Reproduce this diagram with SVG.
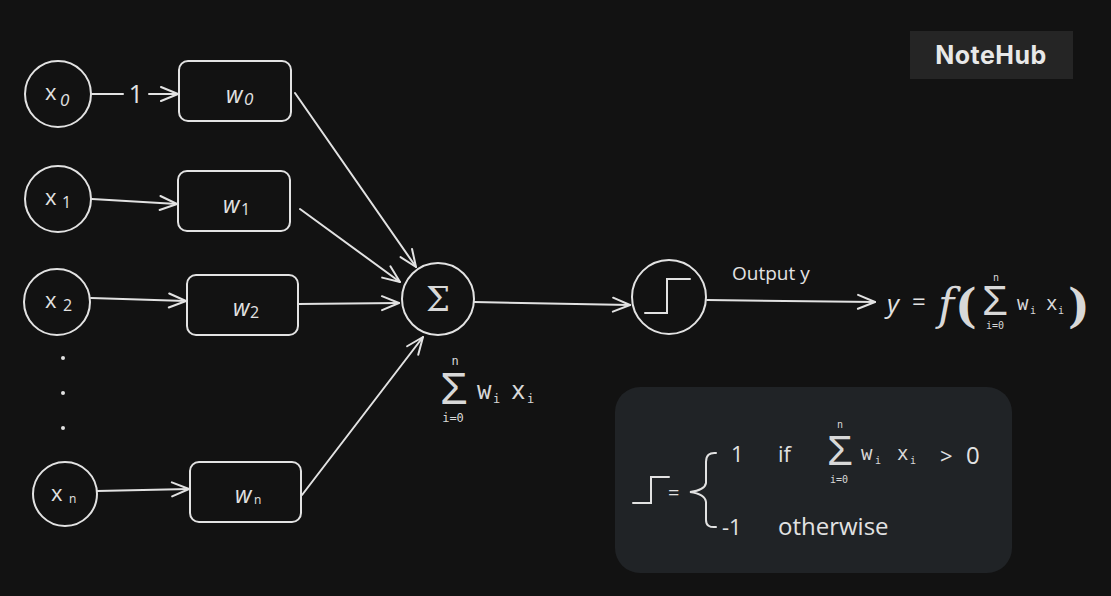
<svg xmlns="http://www.w3.org/2000/svg" width="1111" height="596" viewBox="0 0 1111 596">
<defs>
<marker id="arr" viewBox="0 0 20 20" refX="19" refY="10" markerWidth="20" markerHeight="20" markerUnits="userSpaceOnUse" orient="auto">
<path d="M2,3 L19,10 L2,17" fill="none" stroke="#e2e2e2" stroke-width="2" stroke-linecap="round" stroke-linejoin="round"/>
</marker>
<style>
.n{fill:none;stroke:#e2e2e2;stroke-width:2}
.c{fill:none;stroke:#e2e2e2;stroke-width:2;stroke-linecap:round}
.h{font-family:"Open Sans","Liberation Sans",sans-serif;fill:#e2e2e2}
.m{font-family:"DejaVu Sans Mono","Liberation Mono",monospace;fill:#d8d8d8}
.s{font-family:"DejaVu Serif","Liberation Serif",serif;fill:#d8d8d8}
.g{font-family:"Liberation Sans",sans-serif;fill:#d8d8d8}
</style>
</defs>
<rect width="1111" height="596" fill="#121212"/>
<g id="logo">
<rect x="910" y="31" width="163" height="48" fill="#252525"/>
<text x="991" y="64" text-anchor="middle" font-family="Inter,'DejaVu Sans',sans-serif" font-weight="700" font-size="25" fill="#e8e8e8" letter-spacing="0.5">NoteHub</text>
</g>
<g id="connectors">
<line class="c" x1="92" y1="94" x2="123" y2="94"/>
<text class="h" x="136" y="103" font-size="25" text-anchor="middle">1</text>
<line class="c" x1="149" y1="94" x2="178" y2="94" marker-end="url(#arr)"/>
<line class="c" x1="92" y1="199" x2="177" y2="204" marker-end="url(#arr)"/>
<line class="c" x1="91" y1="298" x2="186" y2="301" marker-end="url(#arr)"/>
<line class="c" x1="97" y1="491" x2="189" y2="489" marker-end="url(#arr)"/>
<line class="c" x1="295" y1="93" x2="416" y2="267" marker-end="url(#arr)"/>
<line class="c" x1="300" y1="209" x2="400" y2="282" marker-end="url(#arr)"/>
<line class="c" x1="298" y1="304" x2="399" y2="303" marker-end="url(#arr)"/>
<line class="c" x1="302" y1="495" x2="423" y2="337" marker-end="url(#arr)"/>
<line class="c" x1="474" y1="302" x2="630" y2="305" marker-end="url(#arr)"/>
<line class="c" x1="707" y1="300" x2="875" y2="302" marker-end="url(#arr)"/>
<text class="h" x="732" y="280" font-size="19">Output y</text>
</g>
<g id="x0">
<circle class="n" cx="58" cy="94" r="33"/>
<text class="h" x="45" y="100" font-size="22">x</text><text class="h" x="60" y="106" font-size="17" font-style="italic">0</text>
</g>
<g id="x1">
<circle class="n" cx="58" cy="199" r="33"/>
<text class="h" x="45" y="205" font-size="22">x</text><text class="h" x="62" y="208" font-size="16">1</text>
</g>
<g id="x2">
<circle class="n" cx="57" cy="302" r="33"/>
<text class="h" x="45" y="308" font-size="22">x</text><text class="h" x="63" y="311" font-size="16">2</text>
</g>
<g id="dots">
<circle cx="63" cy="358" r="2" fill="#e2e2e2"/>
<circle cx="63" cy="393" r="2" fill="#e2e2e2"/>
<circle cx="63" cy="428" r="2" fill="#e2e2e2"/>
</g>
<g id="xn">
<circle class="n" cx="65" cy="494" r="32"/>
<text class="h" x="51" y="501" font-size="22">x</text><text class="h" x="69" y="503" font-size="12">n</text>
</g>
<g id="w0">
<rect class="n" x="179" y="61" width="112" height="60" rx="9"/>
<text class="h" x="226" y="103" font-size="23" font-style="italic">w</text><text class="h" x="244" y="105" font-size="17" font-style="italic">0</text>
</g>
<g id="w1">
<rect class="n" x="178" y="171" width="112" height="60" rx="9"/>
<text class="h" x="223" y="213" font-size="23" font-style="italic">w</text><text class="h" x="241" y="215" font-size="16">1</text>
</g>
<g id="w2">
<rect class="n" x="187" y="275" width="111" height="60" rx="9"/>
<text class="h" x="233" y="316" font-size="23" font-style="italic">w</text><text class="h" x="250" y="318" font-size="16">2</text>
</g>
<g id="wn">
<rect class="n" x="190" y="462" width="111" height="60" rx="9"/>
<text class="h" x="235" y="503" font-size="23" font-style="italic">w</text><text class="h" x="254" y="504" font-size="12">n</text>
</g>
<g id="sum">
<circle class="n" cx="438" cy="299" r="36"/>
<text class="s" x="438" y="311" font-size="34" text-anchor="middle">Σ</text>
</g>
<g id="sum-label">
<text class="m" x="455" y="365" font-size="12" text-anchor="middle">n</text>
<text class="g" x="454" y="404" font-size="45" text-anchor="middle">Σ</text>
<text class="m" x="453" y="422" font-size="12" text-anchor="middle">i=0</text>
<text class="m" x="477" y="399" font-size="24">w</text><text class="m" x="493" y="403" font-size="12">i</text>
<text class="m" x="511" y="399" font-size="24">x</text><text class="m" x="527" y="403" font-size="12">i</text>
</g>
<g id="step">
<circle class="n" cx="669" cy="297" r="37"/>
<path class="c" d="M645,313 L667,313 L667,279 L690,279"/>
</g>
<g id="formula">
<text class="h" x="887" y="313" font-size="26" font-style="italic">y</text>
<text class="h" x="912" y="310" font-size="24">=</text>
<text class="s" x="938" y="320" font-size="44" font-style="italic">f</text>
<text class="s" x="955" y="322" font-size="46" font-weight="bold">(</text>
<text class="m" x="996" y="281" font-size="10" text-anchor="middle">n</text>
<text class="g" x="995" y="315" font-size="42" text-anchor="middle">Σ</text>
<text class="m" x="995" y="329" font-size="10" text-anchor="middle">i=0</text>
<text class="m" x="1017" y="310" font-size="19">w</text><text class="m" x="1030" y="314" font-size="10">i</text>
<text class="m" x="1046" y="310" font-size="19">x</text><text class="m" x="1058" y="314" font-size="10">i</text>
<text class="s" x="1068" y="322" font-size="46" font-weight="bold">)</text>
</g>
<g id="definition">
<rect x="615" y="387" width="397" height="186" rx="25" fill="#202326"/>
<path class="c" d="M633,503 L651,503 L651,477 L669,477"/>
<text class="h" x="668" y="500" font-size="20">=</text>
<path class="c" d="M716,453 Q706,452 706,462 L706,483 Q705,490 690,492 Q705,494 706,502 L706,520 Q706,528 716,527"/>
<text class="h" x="731" y="462" font-size="22">1</text>
<text class="h" x="778" y="462" font-size="22">if</text>
<text class="m" x="840" y="428" font-size="10" text-anchor="middle">n</text>
<text class="g" x="840" y="465" font-size="42" text-anchor="middle">Σ</text>
<text class="m" x="839" y="483" font-size="10" text-anchor="middle">i=0</text>
<text class="m" x="861" y="460" font-size="19">w</text><text class="m" x="875" y="464" font-size="10">i</text>
<text class="m" x="897" y="460" font-size="19">x</text><text class="m" x="910" y="464" font-size="10">i</text>
<text class="h" x="940" y="464" font-size="22">&gt;</text>
<text class="h" x="966" y="464" font-size="24">0</text>
<text class="h" x="722" y="535" font-size="22">-1</text>
<text class="h" x="778" y="535" font-size="24">otherwise</text>
</g>
</svg>
